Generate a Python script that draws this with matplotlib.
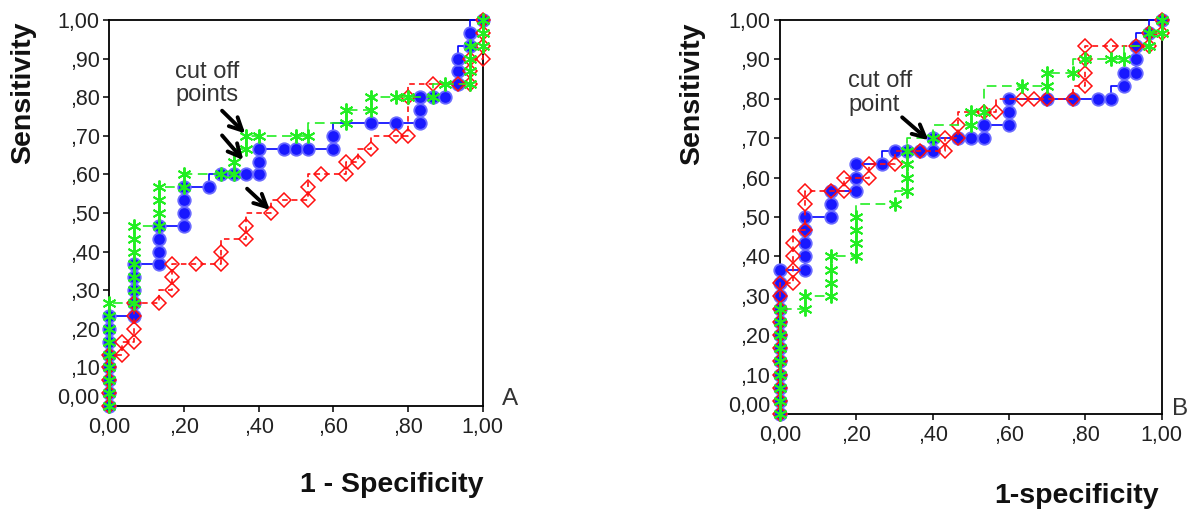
import numpy as np
import matplotlib
matplotlib.use("Agg")
import matplotlib.pyplot as plt
import matplotlib.transforms as mt

plt.rcParams['font.family'] = ['Liberation Sans', 'DejaVu Sans']
plt.rcParams['lines.scale_dashes'] = False

N = 30  # counts per axis (values below are k/30)

# ---------------- Panel A ----------------
a_blue_fp = [0,0,0,0,0,0,0,0,2,2,2,2,2,4,4,4,4,6,6,6,6,8,9,10,11,12,12,12,14,15,16,18,18,21,23,25,25,25,26,27,28,28,28,29,29,30]
a_blue_tp = [0,1,2,3,4,5,6,7,7,8,9,10,11,11,12,13,14,14,15,16,17,17,18,18,18,18,19,20,20,20,20,20,21,22,22,22,23,24,24,24,25,26,27,28,29,30]

a_green_fp = [0,0,0,0,0,0,0,0,0,2,2,2,2,2,2,2,4,4,4,4,6,6,9,10,10,11,11,12,15,16,19,19,21,21,23,24,26,27,29,29,29,29,30,30,30]
a_green_tp = [0,1,2,3,4,5,6,7,8,8,9,10,11,12,13,14,14,15,16,17,17,18,18,18,19,20,21,21,21,21,22,23,23,24,24,24,24,25,25,26,27,28,28,29,30]

a_red_fp = [0,0,0,0,0,1,1,2,2,2,2,4,5,5,5,7,9,9,11,11,13,14,16,16,17,19,19,20,21,23,24,24,26,28,29,29,29,30,30,30,30]
a_red_tp = [0,1,2,3,4,4,5,5,6,7,8,8,9,10,11,11,11,12,13,14,15,16,16,17,18,18,19,19,20,21,21,24,25,25,25,26,27,27,28,29,30]

# ---------------- Panel B ----------------
b_blue_fp = [0,0,0,0,0,0,0,0,0,0,0,0,2,2,2,2,2,4,4,4,6,6,6,8,9,10,11,12,12,14,15,16,16,18,18,18,21,23,25,26,27,27,28,28,28,29,30]
b_blue_tp = [0,1,2,3,4,5,6,7,8,9,10,11,11,12,13,14,15,15,16,17,17,18,19,19,20,20,20,20,21,21,21,21,22,22,23,24,24,24,24,24,25,26,26,27,28,29,30]

b_green_fp = [0,0,0,0,0,0,0,0,0,2,2,4,4,4,4,6,6,6,6,9,10,10,10,10,12,15,15,16,19,21,21,23,24,26,27,29,29,30,30]
b_green_tp = [0,1,2,3,4,5,6,7,8,8,9,9,10,11,12,12,13,14,15,16,17,18,19,20,21,22,23,23,25,25,26,26,27,27,27,28,29,29,30]

b_red_fp = [0,0,0,0,0,0,0,0,0,0,0,1,1,1,1,2,2,2,4,5,5,7,7,9,11,13,13,14,14,16,17,19,20,21,23,24,24,24,24,26,28,29,29,30,30]
b_red_tp = [0,1,2,3,4,5,6,7,8,9,10,10,11,12,13,14,16,17,17,17,18,18,19,19,20,20,21,21,22,23,23,24,24,24,24,25,26,27,28,28,28,28,29,29,30]

x_ticks = [0.0, 0.2, 0.4, 0.6, 0.8, 1.0]
x_ticklabels = ['0,00', ',20', ',40', ',60', ',80', '1,00']
y_ticks = [0.0, 0.1, 0.2, 0.3, 0.4, 0.5, 0.6, 0.7, 0.8, 0.9, 1.0]
y_ticklabels = ['0,00', ',10', ',20', ',30', ',40', ',50', ',60', ',70', ',80', ',90', '1,00']

BLUE = '#0000ff'
GREEN = '#22ee22'
RED = '#ff1010'

fig = plt.figure(figsize=(11.92, 5.09), dpi=100)
W, H = 1192, 509


def make_axes(l, r, t, b):
    return fig.add_axes([l / W, 1 - b / H, (r - l) / W, (b - t) / H])


def roc(ax, fp, tp, color, ls, marker, ms, mfc, mec, mew, z):
    x = np.array(fp) / N
    y = np.array(tp) / N
    ax.plot(x, y, drawstyle='steps-pre', color=color, ls=ls, lw=1.2,
            zorder=z, clip_on=False)
    ax.plot(x, y, ls='none', marker=marker, ms=ms, mfc=mfc, mec=mec,
            mew=mew, zorder=z + 0.5, clip_on=False)


def style(ax):
    ax.set_xlim(0, 1)
    ax.set_ylim(0, 1)
    ax.set_xticks(x_ticks)
    ax.set_xticklabels(x_ticklabels)
    ax.set_yticks(y_ticks)
    ax.set_yticklabels(y_ticklabels)
    for s in ax.spines.values():
        s.set_linewidth(1.3)
    ax.tick_params(direction='out', length=4, width=1.1, labelsize=15.5,
                   colors='black', labelcolor='#222222')
    ax.tick_params(axis='y', pad=3)
    ax.tick_params(axis='x', pad=4)
    # lift the "0,00" y label as in the original
    lbl = ax.get_yticklabels()[0]
    lbl.set_transform(lbl.get_transform() + mt.ScaledTranslation(0, 10 / 100, fig.dpi_scale_trans))


def all_series(ax, bfp, btp, gfp, gtp, rfp, rtp):
    roc(ax, bfp, btp, BLUE, '-', 'o', 9, '#1818ff', '#6a6aff', 1.3, 3)
    roc(ax, rfp, rtp, RED, (0, (4, 3)), 'D', 7.3, 'none', RED, 1.1, 4)
    roc(ax, gfp, gtp, GREEN, (0, (7, 4)), (6, 2, 0), 10, GREEN, GREEN, 1.4, 5)


arrow_kw = dict(arrowstyle='->, head_length=0.9, head_width=0.45', lw=2.8,
                color='black', shrinkA=0, shrinkB=0)

# Panel A
axA = make_axes(109.3, 482.7, 20, 406)
all_series(axA, a_blue_fp, a_blue_tp, a_green_fp, a_green_tp, a_red_fp, a_red_tp)
style(axA)
axA.text(0.176, 0.850, 'cut off', fontsize=17, color='#333333', va='baseline', ha='left')
axA.text(0.176, 0.790, 'points', fontsize=17, color='#333333', va='baseline', ha='left')
axA.annotate('', xy=(0.364, 0.706), xytext=(0.302, 0.765), arrowprops=arrow_kw, zorder=10)
axA.annotate('', xy=(0.359, 0.637), xytext=(0.302, 0.701), arrowprops=arrow_kw, zorder=10)
axA.annotate('', xy=(0.430, 0.508), xytext=(0.369, 0.563), arrowprops=arrow_kw, zorder=10)

# Panel B
axB = make_axes(780, 1161.7, 20, 414)
all_series(axB, b_blue_fp, b_blue_tp, b_green_fp, b_green_tp, b_red_fp, b_red_tp)
style(axB)
axB.text(0.178, 0.830, 'cut off', fontsize=17, color='#333333', va='baseline', ha='left')
axB.text(0.178, 0.770, 'point', fontsize=17, color='#333333', va='baseline', ha='left')
axB.annotate('', xy=(0.389, 0.695), xytext=(0.320, 0.753), arrowprops=arrow_kw, zorder=10)

# axis titles
fig.text(23 / W, 1 - 93 / H, 'Sensitivity', rotation=90, ha='center', va='center',
         fontsize=20.5, fontweight='bold', color='#111111')
fig.text(692 / W, 1 - 94 / H, 'Sensitivity', rotation=90, ha='center', va='center',
         fontsize=20.5, fontweight='bold', color='#111111')
fig.text(392 / W, 1 - 485 / H, '1 - Specificity', ha='center', va='center',
         fontsize=20.5, fontweight='bold', color='#111111')
fig.text(1077 / W, 1 - 496 / H, '1-specificity', ha='center', va='center',
         fontsize=20.5, fontweight='bold', color='#111111')
fig.text(502 / W, 1 - 405 / H, 'A', ha='left', va='baseline', fontsize=17.5, color='#333333')
fig.text(1172 / W, 1 - 415 / H, 'B', ha='left', va='baseline', fontsize=17.5, color='#333333')

fig.savefig('out.png', dpi=100)
